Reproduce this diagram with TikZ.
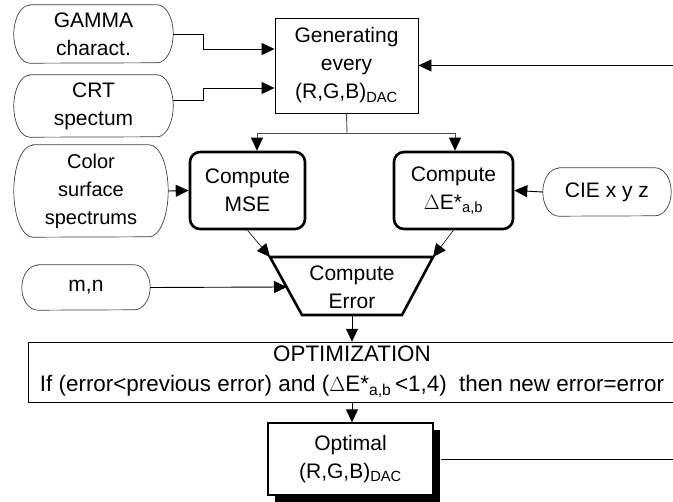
\documentclass[tikz,border=0pt]{standalone}
\usepackage{fontspec}
\setmainfont{Liberation Sans}
\usetikzlibrary{arrows.meta,shadows,calc}
\begin{document}
\begin{tikzpicture}[x=1pt,y=-1pt,
  every node/.style={font=\fontsize{21}{28}\selectfont, align=center, inner sep=0pt},
  arr/.style={draw=black, line width=0.9pt, -{Triangle[length=13pt,width=12pt,color=black,fill=black]}},
  conn/.style={draw=black, line width=0.9pt},
  termline/.style={draw=black!75, line width=0.7pt},
  term/.style 2 args={minimum width=#1, minimum height=#2},
  thinbox/.style={draw, line width=0.9pt},
  thickbox/.style={draw, line width=2.6pt, rounded corners=10pt, minimum width=#1, minimum height=77pt},
]
\useasboundingbox (0,0) rectangle (673,502);

% terminals (text holders)
\node[term={159pt}{58pt}] (gamma) at (93.5,34) {GAMMA\\charact.};
\node[term={159pt}{62pt}] (crt) at (93.5,106) {CRT\\spectum};
\node[term={154pt}{92pt}, font=\fontsize{20}{28}\selectfont] (color) at (91,191) {Color\\surface\\spectrums};
\node[term={128pt}{45pt}] (mn) at (86,287.5) {m,n};
\node[term={128pt}{48pt}] (cie) at (607,192) {CIE x y z};

\foreach \n/\rx/\ry in {gamma/16/29, crt/16/31, color/19/46, mn/16/22.5, cie/16/24} {
  \draw[termline] ([xshift=\rx pt]\n.north west) -- ([xshift=-\rx pt]\n.north east)
    arc[start angle=90, end angle=-90, x radius=\rx pt, y radius=\ry pt]
    -- ([xshift=\rx pt]\n.south west)
    arc[start angle=270, end angle=90, x radius=\rx pt, y radius=\ry pt] -- cycle;
}

% process boxes
\node[thinbox, minimum width=143pt, minimum height=95pt] (gen) at (346.5,65.5)
  {Generating\\every\\(R,G,B)\textsubscript{DAC}};
\node[thickbox=115pt] (mse) at (247.5,190.5) {Compute\\MSE};
\node[thickbox=119pt] (de) at (453.5,190.5) {Compute\\$\Delta$E*\textsubscript{a,b}};

% trapezoid
\coordinate (tl) at (270,257);
\coordinate (tr) at (433,257);
\coordinate (br) at (402,315);
\coordinate (bl) at (302,315);
\draw[line width=2.6pt, line join=miter] (tl) -- (tr) -- (br) -- (bl) -- cycle;
\node (err) at (352,287) {Compute\\Error};
\coordinate (errin) at (287,287);
\coordinate (errout) at (352,315);

% optimization box
\draw[thinbox] (673,342) -| (28,402) -- (673,402);
\node[minimum height=60pt, font=\fontsize{22.4}{30}\selectfont] (opt) at (352,372)
  {OPTIMIZATION\\If (error<previous error) and ($\Delta$E*\textsubscript{a,b}\,<1,4)~~then new error=error};

% optimal
\node[draw, line width=1.3pt, fill=white, minimum width=165pt, minimum height=72pt,
  drop shadow={fill=black, opacity=1, shadow xshift=7pt, shadow yshift=-7pt}] (optimal) at (350.5,459)
  {Optimal\\(R,G,B)\textsubscript{DAC}};

% connectors
\draw[arr] (gamma.east) -- ++(30,0) |- ([yshift=16.5pt]gen.west);
\draw[arr] ([yshift=6pt]crt.east) -- ++(30,0) |- ([yshift=-22.5pt]gen.west);
\coordinate (fbin) at (673,65.5);
\draw[arr] (fbin) -- (gen.east);
\coordinate (split) at (347,133);
\draw[conn, draw=black!70] (gen.south) -- (split);
\draw[arr, draw=black!70] (split) -| ([xshift=9.5pt]mse.north);
\draw[arr, draw=black!70] (split) -| ([xshift=1.5pt]de.north);
\draw[arr] (color.east) -- (mse.west);
\draw[arr] (cie.west) -- (de.east);
\draw[arr, line width=0.6pt] (mse.south) -- (tl);
\draw[arr, line width=0.6pt] (de.south) -- (tr);
\draw[arr] (mn.east) -- (errin);
\draw[arr] (errout) -- (opt.north);
\draw[arr] (opt.south) -- (opt.south |- optimal.north);
\coordinate (fbout) at (673,459);
\draw[conn] ([xshift=7pt]optimal.east) -- (fbout);
\end{tikzpicture}
\end{document}
